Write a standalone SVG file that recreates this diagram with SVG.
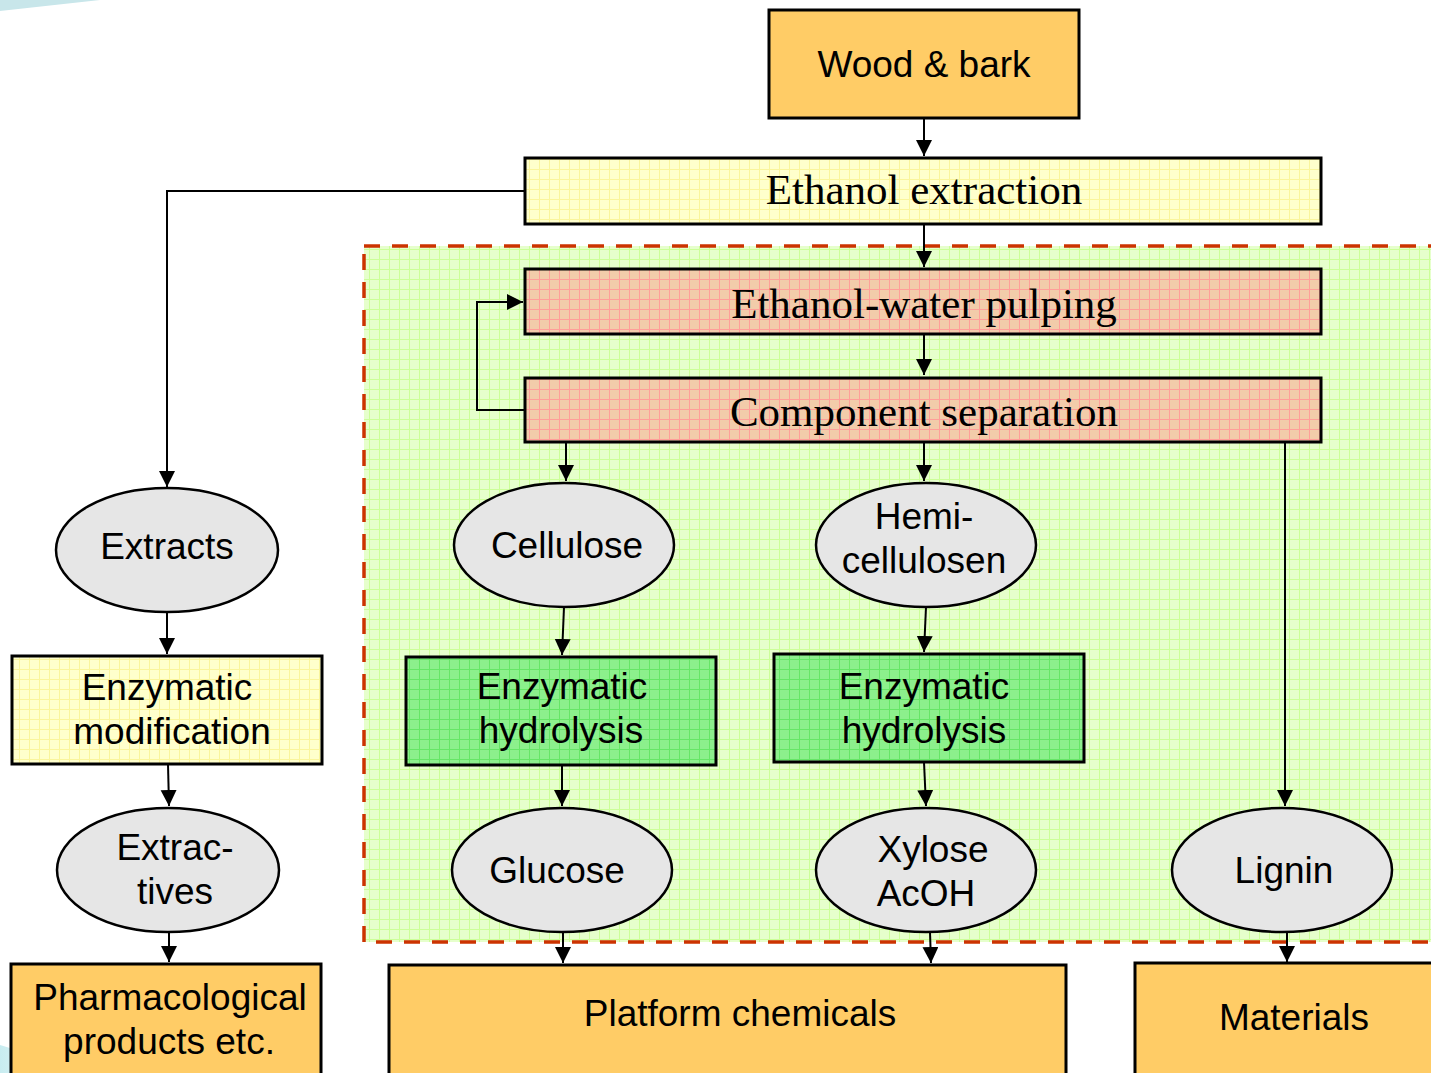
<svg xmlns="http://www.w3.org/2000/svg" width="1431" height="1073" viewBox="0 0 1431 1073">
<style>
.box{stroke:#000;stroke-width:3}
.orange{fill:#FFCC66}
.ell{fill:#E6E6E6;stroke:#000;stroke-width:2.5}
.sans{font-family:"Liberation Sans",Arial,sans-serif;font-size:37px;fill:#000;text-anchor:middle}
.serif{font-family:"Liberation Serif","Times New Roman",serif;font-size:43px;fill:#000;text-anchor:middle}
.con{fill:none;stroke:#000;stroke-width:2}
</style>
<defs>
<marker id="arr" markerUnits="userSpaceOnUse" markerWidth="16" markerHeight="18" refX="16" refY="8" orient="auto">
<path d="M0,0 L16,8 L0,16 Z" fill="#000"/>
</marker>
<pattern id="pYellow" patternUnits="userSpaceOnUse" width="10" height="10">
<rect width="10" height="10" fill="#FFFFCC"/>
<path d="M9.5,0 V10 M0,9.5 H10" stroke="#FAF59C" stroke-width="1"/>
</pattern>
<pattern id="pGreenBg" patternUnits="userSpaceOnUse" width="10" height="10">
<rect width="10" height="10" fill="#E6FFCC"/>
<path d="M9.5,0 V10 M0,9.5 H10" stroke="#CCFF99" stroke-width="1"/>
</pattern>
<pattern id="pPeach" patternUnits="userSpaceOnUse" width="10" height="10">
<rect width="10" height="10" fill="#F2CCAA"/>
<path d="M9.5,0 V10 M0,9.5 H10" stroke="#FF9F99" stroke-width="1"/>
</pattern>
<pattern id="pGreen" patternUnits="userSpaceOnUse" width="10" height="10">
<rect width="10" height="10" fill="#8CF08C"/>
<path d="M9.5,0 V10 M0,9.5 H10" stroke="#66E666" stroke-width="1"/>
</pattern>
<linearGradient id="swoosh" x1="0" y1="0" x2="1" y2="0">
<stop offset="0" stop-color="#C8ECF0"/>
<stop offset="1" stop-color="#E8F8FA" stop-opacity="0"/>
</linearGradient>
</defs>
<rect width="1431" height="1073" fill="#fff"/>
<polygon points="0,0 100,0 0,11" fill="#C8E6EA"/>
<path d="M0,1045 C30,1055 80,1065 140,1073 L0,1073 Z" fill="url(#swoosh)"/>

<g id="region">
<rect x="364" y="246" width="1080" height="696" fill="url(#pGreenBg)" stroke="#CC3300" stroke-width="3.5" stroke-dasharray="16 12"/>
</g>

<g id="connectors">
<path class="con" d="M924,118 V156" marker-end="url(#arr)"/>
<path class="con" d="M525,191 H167 V487" marker-end="url(#arr)"/>
<path class="con" d="M924,224 V267" marker-end="url(#arr)"/>
<path class="con" d="M924,334 V375" marker-end="url(#arr)"/>
<path class="con" d="M525,410 H477 V302 H523" marker-end="url(#arr)"/>
<path class="con" d="M566,442 V481" marker-end="url(#arr)"/>
<path class="con" d="M924,442 V481" marker-end="url(#arr)"/>
<path class="con" d="M1285,442 V806" marker-end="url(#arr)"/>
<path class="con" d="M167,612 V654" marker-end="url(#arr)"/>
<path class="con" d="M168,764 L169,806" marker-end="url(#arr)"/>
<path class="con" d="M169,932 V962" marker-end="url(#arr)"/>
<path class="con" d="M564,607 L562,655" marker-end="url(#arr)"/>
<path class="con" d="M926,607 L924,652" marker-end="url(#arr)"/>
<path class="con" d="M562,765 V806" marker-end="url(#arr)"/>
<path class="con" d="M924,762 L926,806" marker-end="url(#arr)"/>
<path class="con" d="M563,932 V963" marker-end="url(#arr)"/>
<path class="con" d="M930,932 L931,963" marker-end="url(#arr)"/>
<path class="con" d="M1287,932 V962" marker-end="url(#arr)"/>
</g>

<g id="wood">
<rect class="box orange" x="769" y="10" width="310" height="108"/>
<text class="sans" x="924" y="77">Wood &amp; bark</text>
</g>
<g id="ethanol-extraction">
<rect class="box" x="525" y="158" width="796" height="66" fill="url(#pYellow)"/>
<text class="serif" x="924" y="204">Ethanol extraction</text>
</g>
<g id="pulping">
<rect class="box" x="525" y="269" width="796" height="65" fill="url(#pPeach)"/>
<text class="serif" x="924" y="318">Ethanol-water pulping</text>
</g>
<g id="separation">
<rect class="box" x="525" y="378" width="796" height="64" fill="url(#pPeach)"/>
<text class="serif" x="924" y="426">Component separation</text>
</g>

<g id="extracts">
<ellipse class="ell" cx="167" cy="550" rx="111" ry="62"/>
<text class="sans" x="167" y="559">Extracts</text>
</g>
<g id="enz-mod">
<rect class="box" x="12" y="656" width="310" height="108" fill="url(#pYellow)"/>
<text class="sans" x="167" y="700">Enzymatic</text>
<text class="sans" x="172" y="744">modification</text>
</g>
<g id="extractives">
<ellipse class="ell" cx="168" cy="870" rx="111" ry="62"/>
<text class="sans" x="175" y="860">Extrac-</text>
<text class="sans" x="175" y="904">tives</text>
</g>
<g id="pharma">
<rect class="box orange" x="11" y="964" width="310" height="112"/>
<text class="sans" x="170" y="1010">Pharmacological</text>
<text class="sans" x="169" y="1054">products etc.</text>
</g>

<g id="cellulose">
<ellipse class="ell" cx="564" cy="545" rx="110" ry="62"/>
<text class="sans" x="567" y="558">Cellulose</text>
</g>
<g id="hemi">
<ellipse class="ell" cx="926" cy="545" rx="110" ry="62"/>
<text class="sans" x="924" y="529">Hemi-</text>
<text class="sans" x="924" y="573">cellulosen</text>
</g>
<g id="hydrolysis1">
<rect class="box" x="406" y="657" width="310" height="108" fill="url(#pGreen)"/>
<text class="sans" x="562" y="699">Enzymatic</text>
<text class="sans" x="561" y="743">hydrolysis</text>
</g>
<g id="hydrolysis2">
<rect class="box" x="774" y="654" width="310" height="108" fill="url(#pGreen)"/>
<text class="sans" x="924" y="699">Enzymatic</text>
<text class="sans" x="924" y="743">hydrolysis</text>
</g>
<g id="glucose">
<ellipse class="ell" cx="562" cy="870" rx="110" ry="62"/>
<text class="sans" x="557" y="883">Glucose</text>
</g>
<g id="xylose">
<ellipse class="ell" cx="926" cy="870" rx="110" ry="62"/>
<text class="sans" x="933" y="862">Xylose</text>
<text class="sans" x="926" y="906">AcOH</text>
</g>
<g id="lignin">
<ellipse class="ell" cx="1282" cy="870" rx="110" ry="62"/>
<text class="sans" x="1284" y="883">Lignin</text>
</g>
<g id="platform">
<rect class="box orange" x="389" y="965" width="677" height="112"/>
<text class="sans" x="740" y="1026">Platform chemicals</text>
</g>
<g id="materials">
<rect class="box orange" x="1135" y="963" width="310" height="112"/>
<text class="sans" x="1294" y="1030">Materials</text>
</g>
</svg>
